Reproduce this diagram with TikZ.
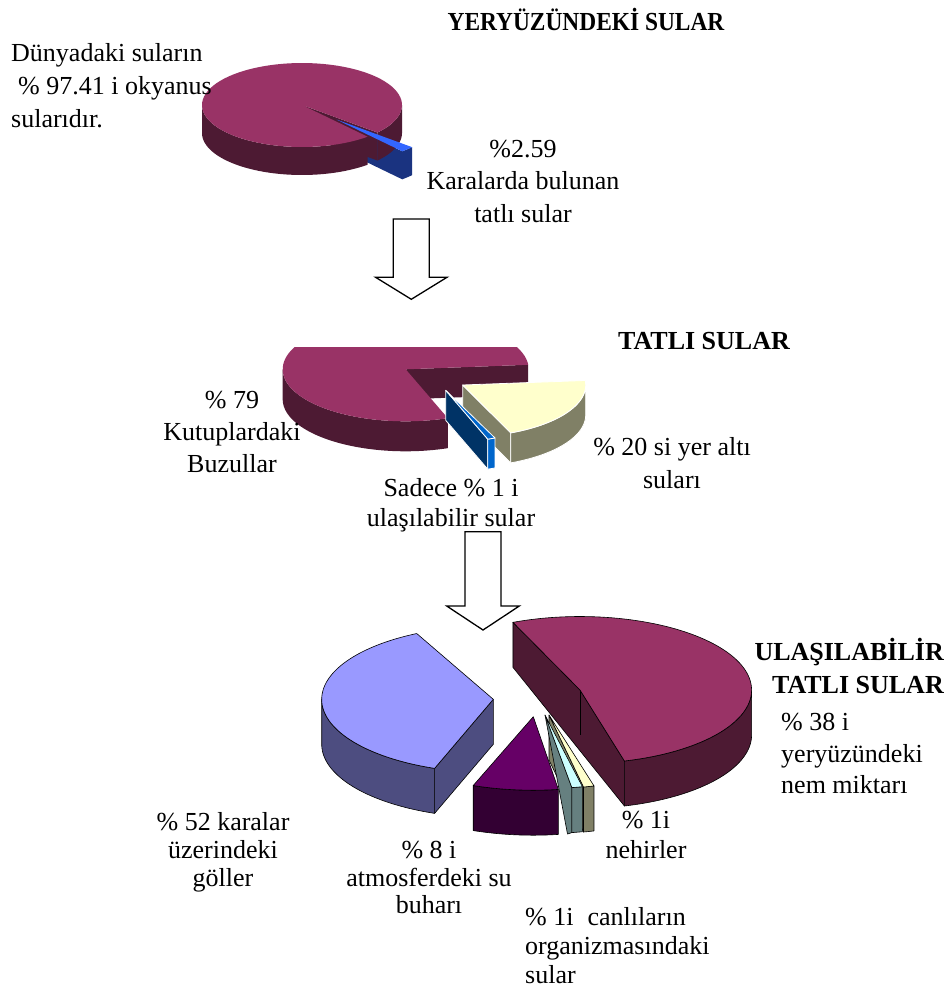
\documentclass[tikz,border=0pt]{standalone}
\usepackage{fontspec}
\setmainfont{Liberation Serif}
\usepackage{graphicx}
\definecolor{plumtop}{HTML}{993366}
\definecolor{plumside}{HTML}{4D1A33}
\definecolor{bonetop}{HTML}{3366FF}
\definecolor{boneside}{HTML}{1A3380}
\definecolor{btwotop}{HTML}{0066CC}
\definecolor{btwoside}{HTML}{003366}
\definecolor{creamtop}{HTML}{FFFFCC}
\definecolor{creamside}{HTML}{808066}
\definecolor{lavtop}{HTML}{9999FF}
\definecolor{lavside}{HTML}{4D4D80}
\definecolor{purptop}{HTML}{660066}
\definecolor{purpside}{HTML}{330033}
\definecolor{cyantop}{HTML}{CCFFFF}
\definecolor{cyanside}{HTML}{668080}
\newcommand{\mystrut}{\rule{0pt}{23pt}}
\newcommand{\setpie}[5]{\def\pcx{#1}\def\pcy{#2}\def\prx{#3}\def\pry{#4}\def\ph{#5}}
\newcommand{\pcut}[4]{%
  \path[#4] ({\pcx+#1},{\pcy+#2})
   -- ({\pcx+#1+\prx*cos(#3)},{\pcy+#2-\pry*sin(#3)})
   -- ({\pcx+#1+\prx*cos(#3)},{\pcy+#2-\pry*sin(#3)+\ph})
   -- ({\pcx+#1},{\pcy+#2+\ph}) -- cycle;}
\newcommand{\pwall}[5]{%
  \path[#5] plot[domain=#3:#4,samples=60] ({\pcx+#1+\prx*cos(\x)},{\pcy+#2-\pry*sin(\x)})
   -- plot[domain=#4:#3,samples=60] ({\pcx+#1+\prx*cos(\x)},{\pcy+#2-\pry*sin(\x)+\ph}) -- cycle;}
\newcommand{\ptop}[5]{%
  \path[#5] ({\pcx+#1},{\pcy+#2}) -- plot[domain=#3:#4,samples=90] ({\pcx+#1+\prx*cos(\x)},{\pcy+#2-\pry*sin(\x)}) -- cycle;}
\tikzset{
  lbl/.style={inner sep=0pt, font=\fontsize{26}{#1}\selectfont},
  lbl/.default=33,
  bld/.style={inner sep=0pt, font=\fontsize{26}{#1}\selectfont\bfseries},
  bld/.default=33,
  blockarrow/.style={draw=black, fill=white, line width=1.3pt, line join=miter},
  pthree/.style={draw=black, line width=0.6pt, line join=round},
  ptwo/.style={draw=white, line width=0.8pt, line join=round},
}
\begin{document}
\begin{tikzpicture}[x=1pt,y=-1pt]
\useasboundingbox (0,0) rectangle (951,990);
\fill[white] (0,0) rectangle (951,990);

% ---------- Pie 1 ----------
\setpie{302}{105}{100}{42}{28}
\pcut{34.6}{14.6}{311}{fill=boneside}
\pwall{34.6}{14.6}{311}{319}{fill=boneside}
\pcut{0}{0}{319}{fill=plumside}
\pwall{0}{0}{319}{360}{fill=plumside}
\pwall{0}{0}{180}{311}{fill=plumside}
\ptop{0}{0}{319}{671}{fill=plumtop}
\ptop{34.6}{14.6}{311}{319}{fill=bonetop}

% ---------- Pie 2 ----------
\begin{scope}
\clip (0,347) rectangle (951,990);
\setpie{405.7}{369.3}{123}{52}{30}
\pcut{0}{0}{5}{fill=plumside}
\pwall{0}{0}{180}{290}{fill=plumside}
\ptop{0}{0}{5}{290}{fill=plumtop}
\pcut{57}{15.7}{293}{ptwo,fill=creamside}
\pwall{57}{15.7}{293}{360}{ptwo,fill=creamside}
\ptop{57}{15.7}{293}{365}{ptwo,fill=creamtop}
\pcut{40}{21}{290}{ptwo,fill=btwoside}
\pwall{40}{21}{290}{293.6}{ptwo,fill=btwotop}
\ptop{40}{21}{290}{293.6}{ptwo,fill=btwotop}
\end{scope}

% ---------- Pie 3 ----------
\setpie{0}{0}{171.6}{73.5}{45}
% maroon slice
\coordinate (mC) at (580,690);
\coordinate (mB) at ({580+171.6*cos(113)},{690-73.5*sin(113)});
\coordinate (mF) at ({580+171.6*cos(285)},{690-73.5*sin(285)});
\path[pthree,fill=plumside] (mB) -- (mC) -- (mF) -- ([yshift=-45pt]mF) -- ([yshift=-45pt]mB) -- cycle;
\draw[line width=0.6pt] (mC) -- ([yshift=-45pt]mC);
\pwall{580}{690}{285}{360}{pthree,fill=plumside}
\ptop{580}{690}{285}{473}{pthree,fill=plumtop}
% lavender slice
\pcut{493.3}{699.3}{250}{pthree,fill=lavside}
\pwall{493.3}{699.3}{180}{250}{pthree,fill=lavside}
\ptop{493.3}{699.3}{116.5}{250}{pthree,fill=lavtop}
% cream sliver
\pcut{549}{715}{281.6}{pthree,fill=creamside}
\pwall{549}{715}{281.6}{285.2}{pthree,fill=creamside}
\ptop{549}{715}{281.6}{285.2}{pthree,fill=creamtop}
% cyan sliver
\path[pthree,fill=cyanside] (545,715) -- (571.8,787.6) -- (571.8,832.6) -- (567.5,834) -- cycle;
\pwall{545}{715}{279}{282.6}{pthree,fill=cyanside}
\ptop{545}{715}{279}{282.6}{pthree,fill=cyantop}
% purple slice
\pwall{533.3}{716.7}{249.5}{278.4}{pthree,fill=purpside}
\ptop{533.3}{716.7}{249.5}{278.4}{pthree,fill=purptop}

% ---------- Block arrows ----------
\draw[blockarrow] (393.3,219) -- (429.3,219) -- (429.3,277.3) -- (447,277.3) -- (411.3,299.3) -- (375.6,277.3) -- (393.3,277.3) -- cycle;
\draw[blockarrow] (465,531.7) -- (501,531.7) -- (501,606) -- (519.3,606) -- (483,630) -- (446.7,606) -- (465,606) -- cycle;

% ---------- Texts ----------
\node[anchor=base, inner sep=0pt] (title) at (586,31) {\scalebox{0.9}[1]{\fontsize{26}{30}\selectfont\bfseries YERYÜZÜNDEKİ SULAR}};
\node[lbl=33, align=left, anchor=north west] (okyanus) at (11,{61.7-23}) {\mystrut Dünyadaki suların\\\hspace*{7pt}\% 97.41 i okyanus\\sularıdır.};
\node[lbl=32.5, align=center, anchor=north] (karalar) at (523,{157-23}) {\mystrut\%2.59\\Karalarda bulunan\\tatlı sular};
\node[bld, anchor=base] (tatli) at (704,349) {TATLI SULAR};
\node[lbl=32, align=center, anchor=north] (kutup) at (232,{408.5-23}) {\mystrut\% 79\\Kutuplardaki\\Buzullar};
\node[lbl=33, align=center, anchor=north] (yeralti) at (672,{455.5-23}) {\mystrut\% 20 si yer altı\\suları};
\node[lbl=30, align=center, anchor=north] (sadece) at (451,{496.5-23}) {\mystrut Sadece \% 1 i\\ulaşılabilir sular};
\node[bld=33, align=right, anchor=north east] (ulas) at (944,{660.5-23}) {\mystrut ULAŞILABİLİR\\TATLI SULAR};
\node[lbl=31.5, align=left, anchor=north west] (nem) at (781,{730.5-23}) {\mystrut\% 38 i\\yeryüzündeki\\nem miktarı};
\node[lbl=28.3, align=center, anchor=north] (goller) at (223,{830-23}) {\mystrut\% 52 karalar\\üzerindeki\\göller};
\node[lbl=27.5, align=center, anchor=north] (buhar) at (429,{858.3-23}) {\mystrut\% 8 i\\atmosferdeki su\\buharı};
\node[lbl=30, align=center, anchor=north] (nehir) at (646,{828.3-23}) {\mystrut\% 1i\\nehirler};
\node[lbl=29, align=left, anchor=north west] (canli) at (525,{925-23}) {\mystrut\% 1i\hspace{14pt}canlıların\\organizmasındaki\\sular};
\end{tikzpicture}
\end{document}
